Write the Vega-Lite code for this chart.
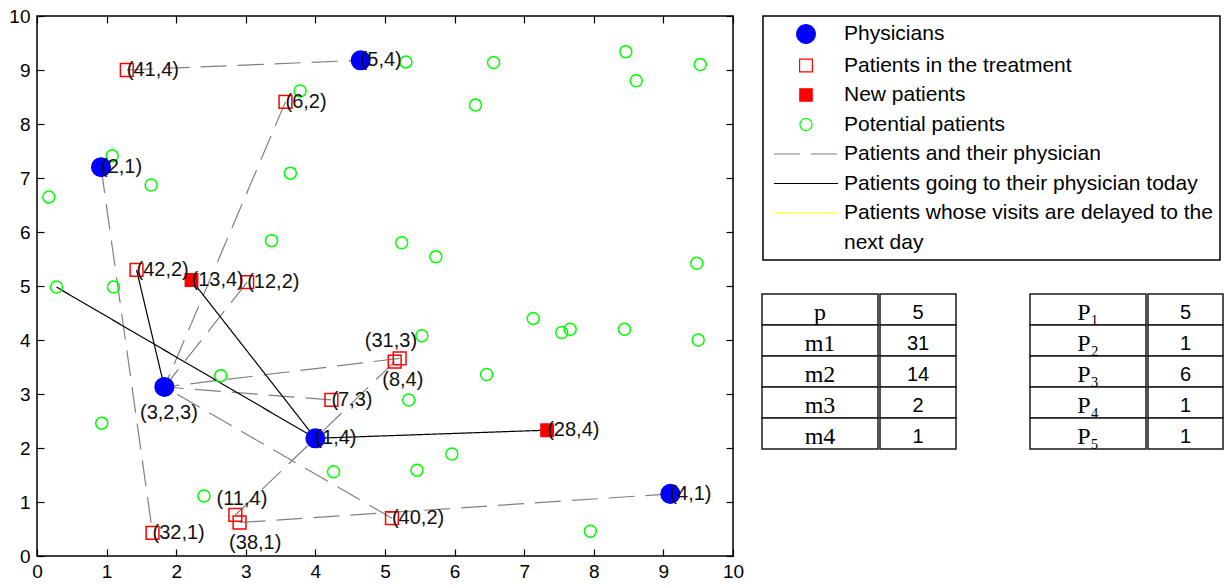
{
  "$schema": "https://vega.github.io/schema/vega-lite/v6.json",
  "background": "white",
  "padding": {"left": 8, "top": 6, "right": 0, "bottom": 0},
  "bounds": "flush",
  "spacing": 29,
  "datasets": {
    "segments": [
      {"kind": "Patients and their physician", "xs": 1.29, "ys": 9.00, "xe": 4.65, "ye": 9.18},
      {"kind": "Patients and their physician", "xs": 3.57, "ys": 8.41, "xe": 1.83, "ye": 3.13},
      {"kind": "Patients and their physician", "xs": 3.02, "ys": 5.07, "xe": 1.83, "ye": 3.13},
      {"kind": "Patients and their physician", "xs": 5.21, "ys": 3.66, "xe": 1.83, "ye": 3.13},
      {"kind": "Patients and their physician", "xs": 4.23, "ys": 2.89, "xe": 1.83, "ye": 3.13},
      {"kind": "Patients and their physician", "xs": 5.10, "ys": 0.70, "xe": 1.83, "ye": 3.13},
      {"kind": "Patients and their physician", "xs": 0.92, "ys": 7.20, "xe": 1.66, "ye": 0.43},
      {"kind": "Patients and their physician", "xs": 2.85, "ys": 0.76, "xe": 4.00, "ye": 2.18},
      {"kind": "Patients and their physician", "xs": 5.14, "ys": 3.60, "xe": 4.00, "ye": 2.18},
      {"kind": "Patients and their physician", "xs": 2.91, "ys": 0.62, "xe": 9.10, "ye": 1.15},
      {"kind": "Patients going to their physician today", "xs": 1.43, "ys": 5.30, "xe": 1.83, "ye": 3.13},
      {"kind": "Patients going to their physician today", "xs": 2.22, "ys": 5.11, "xe": 4.00, "ye": 2.18},
      {"kind": "Patients going to their physician today", "xs": 7.33, "ys": 2.33, "xe": 4.00, "ye": 2.18},
      {"kind": "Patients going to their physician today", "xs": 0.28, "ys": 4.98, "xe": 4.00, "ye": 2.18}
    ],
    "markers": [
      {"kind": "Potential patients", "x": 1.08, "y": 7.41},
      {"kind": "Potential patients", "x": 1.64, "y": 6.87},
      {"kind": "Potential patients", "x": 0.17, "y": 6.65},
      {"kind": "Potential patients", "x": 3.78, "y": 8.61},
      {"kind": "Potential patients", "x": 3.64, "y": 7.09},
      {"kind": "Potential patients", "x": 3.37, "y": 5.84},
      {"kind": "Potential patients", "x": 0.28, "y": 4.98},
      {"kind": "Potential patients", "x": 1.10, "y": 4.98},
      {"kind": "Potential patients", "x": 5.24, "y": 5.80},
      {"kind": "Potential patients", "x": 5.30, "y": 9.15},
      {"kind": "Potential patients", "x": 6.56, "y": 9.14},
      {"kind": "Potential patients", "x": 6.30, "y": 8.35},
      {"kind": "Potential patients", "x": 8.46, "y": 9.34},
      {"kind": "Potential patients", "x": 8.61, "y": 8.80},
      {"kind": "Potential patients", "x": 9.53, "y": 9.10},
      {"kind": "Potential patients", "x": 5.73, "y": 5.54},
      {"kind": "Potential patients", "x": 9.48, "y": 5.42},
      {"kind": "Potential patients", "x": 7.13, "y": 4.40},
      {"kind": "Potential patients", "x": 7.54, "y": 4.14},
      {"kind": "Potential patients", "x": 7.66, "y": 4.20},
      {"kind": "Potential patients", "x": 8.44, "y": 4.20},
      {"kind": "Potential patients", "x": 9.50, "y": 4.00},
      {"kind": "Potential patients", "x": 5.53, "y": 4.08},
      {"kind": "Potential patients", "x": 6.46, "y": 3.36},
      {"kind": "Potential patients", "x": 5.34, "y": 2.89},
      {"kind": "Potential patients", "x": 5.96, "y": 1.89},
      {"kind": "Potential patients", "x": 5.46, "y": 1.59},
      {"kind": "Potential patients", "x": 7.95, "y": 0.46},
      {"kind": "Potential patients", "x": 2.64, "y": 3.34},
      {"kind": "Potential patients", "x": 0.93, "y": 2.46},
      {"kind": "Potential patients", "x": 4.26, "y": 1.56},
      {"kind": "Potential patients", "x": 2.40, "y": 1.11},
      {"kind": "Patients in the treatment", "x": 1.29, "y": 9.00},
      {"kind": "Patients in the treatment", "x": 3.57, "y": 8.41},
      {"kind": "Patients in the treatment", "x": 1.43, "y": 5.30},
      {"kind": "Patients in the treatment", "x": 3.02, "y": 5.07},
      {"kind": "Patients in the treatment", "x": 5.21, "y": 3.66},
      {"kind": "Patients in the treatment", "x": 5.14, "y": 3.60},
      {"kind": "Patients in the treatment", "x": 4.23, "y": 2.89},
      {"kind": "Patients in the treatment", "x": 2.85, "y": 0.76},
      {"kind": "Patients in the treatment", "x": 2.91, "y": 0.62},
      {"kind": "Patients in the treatment", "x": 1.66, "y": 0.43},
      {"kind": "Patients in the treatment", "x": 5.10, "y": 0.70},
      {"kind": "New patients", "x": 2.22, "y": 5.11},
      {"kind": "New patients", "x": 7.33, "y": 2.33},
      {"kind": "Physicians", "x": 0.92, "y": 7.20},
      {"kind": "Physicians", "x": 4.65, "y": 9.18},
      {"kind": "Physicians", "x": 1.83, "y": 3.13},
      {"kind": "Physicians", "x": 4.00, "y": 2.18},
      {"kind": "Physicians", "x": 9.10, "y": 1.15}
    ],
    "labels": [
      {"label": "(2,1)", "x": 0.92, "y": 7.20},
      {"label": "(5,4)", "x": 4.65, "y": 9.18},
      {"label": "(3,2,3)", "x": 1.48, "y": 2.64},
      {"label": "(1,4)", "x": 4.00, "y": 2.18},
      {"label": "(4,1)", "x": 9.10, "y": 1.15},
      {"label": "(41,4)", "x": 1.29, "y": 9.00},
      {"label": "(6,2)", "x": 3.57, "y": 8.41},
      {"label": "(42,2)", "x": 1.43, "y": 5.30},
      {"label": "(12,2)", "x": 3.02, "y": 5.07},
      {"label": "(31,3)", "x": 4.71, "y": 3.99},
      {"label": "(8,4)", "x": 4.96, "y": 3.26},
      {"label": "(7,3)", "x": 4.23, "y": 2.89},
      {"label": "(11,4)", "x": 2.58, "y": 1.06},
      {"label": "(38,1)", "x": 2.76, "y": 0.24},
      {"label": "(32,1)", "x": 1.66, "y": 0.43},
      {"label": "(40,2)", "x": 5.10, "y": 0.70},
      {"label": "(13,4)", "x": 2.22, "y": 5.11},
      {"label": "(28,4)", "x": 7.33, "y": 2.33}
    ],
    "params": [
      {"row": 1, "name": "p", "value": 5},
      {"row": 2, "name": "m1", "value": 31},
      {"row": 3, "name": "m2", "value": 14},
      {"row": 4, "name": "m3", "value": 2},
      {"row": 5, "name": "m4", "value": 1}
    ],
    "counts": [
      {"row": 1, "name": "P₁", "value": 5},
      {"row": 2, "name": "P₂", "value": 1},
      {"row": 3, "name": "P₃", "value": 6},
      {"row": 4, "name": "P₄", "value": 1},
      {"row": 5, "name": "P₅", "value": 1}
    ]
  },
  "hconcat": [
    {
      "width": 696,
      "height": 540,
      "layer": [
        {
          "data": {"name": "segments"},
          "mark": {"type": "rule", "strokeWidth": 1.2},
          "encoding": {
            "x": {"field": "xs", "type": "quantitative", "scale": {"domain": [0, 10], "nice": false, "zero": false},
                  "axis": {"orient": "bottom", "values": [0, 1, 2, 3, 4, 5, 6, 7, 8, 9, 10], "format": "d", "labelFlush": false, "labelOverlap": false, "labelPadding": 13, "title": null}},
            "y": {"field": "ys", "type": "quantitative", "scale": {"domain": [0, 10], "nice": false, "zero": false},
                  "axis": {"orient": "left", "values": [0, 1, 2, 3, 4, 5, 6, 7, 8, 9, 10], "format": "d", "labelFlush": false, "labelOverlap": false, "labelPadding": 14, "title": null}},
            "x2": {"field": "xe"},
            "y2": {"field": "ye"},
            "stroke": {
              "field": "kind", "type": "nominal",
              "scale": {"domain": ["Physicians", "Patients in the treatment", "New patients", "Potential patients", "Patients and their physician", "Patients going to their physician today", "Patients whose visits are delayed to the next day"],
                        "range": ["#0000ff", "#ff0000", "#ff0000", "#00ff00", "#808080", "#000000", "#ffff00"]},
              "legend": {"title": null, "orient": "none", "legendX": 726, "legendY": 0,
                         "labelExpr": "datum.value === 'Patients whose visits are delayed to the next day' ? ['Patients whose visits are delayed to the', 'next day'] : datum.label",
                         "encoding": {"labels": {"lineHeight": {"value": 30}}}}
            },
            "strokeDash": {
              "field": "kind", "type": "nominal",
              "scale": {"domain": ["Physicians", "Patients in the treatment", "New patients", "Potential patients", "Patients and their physician", "Patients going to their physician today", "Patients whose visits are delayed to the next day"],
                        "range": [[1, 0], [1, 0], [1, 0], [1, 0], [26, 11], [1, 0], [1, 0]]},
              "legend": {"title": null, "orient": "none", "legendX": 726, "legendY": 0,
                         "labelExpr": "datum.value === 'Patients whose visits are delayed to the next day' ? ['Patients whose visits are delayed to the', 'next day'] : datum.label",
                         "encoding": {"labels": {"lineHeight": {"value": 30}}}}
            }
          }
        },
        {
          "data": {"name": "markers"},
          "mark": {"type": "point", "size": 400, "opacity": 1, "strokeWidth": 1.5},
          "encoding": {
            "x": {"field": "x", "type": "quantitative", "scale": {"domain": [0, 10], "nice": false, "zero": false},
                  "axis": {"orient": "top", "values": [0, 1, 2, 3, 4, 5, 6, 7, 8, 9, 10], "labels": false, "title": null}},
            "y": {"field": "y", "type": "quantitative", "scale": {"domain": [0, 10], "nice": false, "zero": false},
                  "axis": {"orient": "right", "values": [0, 1, 2, 3, 4, 5, 6, 7, 8, 9, 10], "labels": false, "title": null}},
            "shape": {
              "field": "kind", "type": "nominal",
              "scale": {"domain": ["Physicians", "Patients in the treatment", "New patients", "Potential patients", "Patients and their physician", "Patients going to their physician today", "Patients whose visits are delayed to the next day"],
                        "range": [
                          "M0.93,0C0.93,0.5136,0.5136,0.93,0,0.93C-0.5136,0.93,-0.93,0.5136,-0.93,0C-0.93,-0.5136,-0.5136,-0.93,0,-0.93C0.5136,-0.93,0.93,-0.5136,0.93,0Z",
                          "M-0.64,-0.64L0.64,-0.64L0.64,0.64L-0.64,0.64Z",
                          "M-0.62,-0.62L0.62,-0.62L0.62,0.62L-0.62,0.62Z",
                          "M0.6,0C0.6,0.3314,0.3314,0.6,0,0.6C-0.3314,0.6,-0.6,0.3314,-0.6,0C-0.6,-0.3314,-0.3314,-0.6,0,-0.6C0.3314,-0.6,0.6,-0.3314,0.6,0Z",
                          "M-3.2,0L3.2,0",
                          "M-3.2,0L3.2,0",
                          "M-3.2,0L3.2,0"
                        ]},
              "legend": {"title": null, "orient": "none", "legendX": 726, "legendY": 0,
                         "labelExpr": "datum.value === 'Patients whose visits are delayed to the next day' ? ['Patients whose visits are delayed to the', 'next day'] : datum.label",
                         "encoding": {"labels": {"lineHeight": {"value": 30}}}}
            },
            "fill": {
              "field": "kind", "type": "nominal",
              "scale": {"domain": ["Physicians", "Patients in the treatment", "New patients", "Potential patients", "Patients and their physician", "Patients going to their physician today", "Patients whose visits are delayed to the next day"],
                        "range": ["#0000ff", "transparent", "#ff0000", "transparent", "transparent", "transparent", "transparent"]},
              "legend": {"title": null, "orient": "none", "legendX": 726, "legendY": 0,
                         "labelExpr": "datum.value === 'Patients whose visits are delayed to the next day' ? ['Patients whose visits are delayed to the', 'next day'] : datum.label",
                         "encoding": {"labels": {"lineHeight": {"value": 30}}}}
            },
            "stroke": {
              "field": "kind", "type": "nominal",
              "scale": {"domain": ["Physicians", "Patients in the treatment", "New patients", "Potential patients", "Patients and their physician", "Patients going to their physician today", "Patients whose visits are delayed to the next day"],
                        "range": ["#0000ff", "#ff0000", "#ff0000", "#00ff00", "#808080", "#000000", "#ffff00"]},
              "legend": {"title": null, "orient": "none", "legendX": 726, "legendY": 0,
                         "labelExpr": "datum.value === 'Patients whose visits are delayed to the next day' ? ['Patients whose visits are delayed to the', 'next day'] : datum.label",
                         "encoding": {"labels": {"lineHeight": {"value": 30}}}}
            }
          }
        },
        {
          "data": {"name": "labels"},
          "mark": {"type": "text", "align": "left", "baseline": "middle", "fontSize": 20, "color": "#111111"},
          "encoding": {
            "x": {"field": "x", "type": "quantitative", "scale": {"domain": [0, 10], "nice": false, "zero": false}, "axis": null},
            "y": {"field": "y", "type": "quantitative", "scale": {"domain": [0, 10], "nice": false, "zero": false}, "axis": null},
            "text": {"field": "label"}
          }
        }
      ],
      "resolve": {"axis": {"x": "independent", "y": "independent"}}
    },
    {
      "spacing": 72,
      "hconcat": [
        {
          "spacing": 0,
          "hconcat": [
            {
              "data": {"name": "params"},
              "width": 116,
              "height": 540,
              "view": {"stroke": null},
              "layer": [
                {"mark": {"type": "rect", "fill": "white", "stroke": "#1a1a1a", "strokeWidth": 1.5},
                 "encoding": {"y": {"field": "row", "type": "ordinal", "scale": {"range": [278, 433], "paddingInner": 0, "paddingOuter": 0}, "axis": null}}},
                {"mark": {"type": "text", "font": "Liberation Serif", "fontSize": 24, "baseline": "middle", "dy": 3, "color": "black"},
                 "encoding": {"y": {"field": "row", "type": "ordinal", "axis": null}, "text": {"field": "name"}}}
              ]
            },
            {
              "data": {"name": "params"},
              "width": 76,
              "height": 540,
              "view": {"stroke": null},
              "layer": [
                {"mark": {"type": "rect", "fill": "white", "stroke": "#1a1a1a", "strokeWidth": 1.5},
                 "encoding": {"y": {"field": "row", "type": "ordinal", "scale": {"range": [278, 433], "paddingInner": 0, "paddingOuter": 0}, "axis": null}}},
                {"mark": {"type": "text", "fontSize": 20, "baseline": "middle", "dy": 3, "color": "black"},
                 "encoding": {"y": {"field": "row", "type": "ordinal", "axis": null}, "text": {"field": "value", "type": "quantitative", "format": "d"}}}
              ]
            }
          ]
        },
        {
          "spacing": 0,
          "hconcat": [
            {
              "data": {"name": "counts"},
              "width": 116,
              "height": 540,
              "view": {"stroke": null},
              "layer": [
                {"mark": {"type": "rect", "fill": "white", "stroke": "#1a1a1a", "strokeWidth": 1.5},
                 "encoding": {"y": {"field": "row", "type": "ordinal", "scale": {"range": [278, 433], "paddingInner": 0, "paddingOuter": 0}, "axis": null}}},
                {"mark": {"type": "text", "font": "Liberation Serif", "fontSize": 24, "baseline": "middle", "dy": 3, "color": "black"},
                 "encoding": {"y": {"field": "row", "type": "ordinal", "axis": null}, "text": {"field": "name"}}}
              ]
            },
            {
              "data": {"name": "counts"},
              "width": 75,
              "height": 540,
              "view": {"stroke": null},
              "layer": [
                {"mark": {"type": "rect", "fill": "white", "stroke": "#1a1a1a", "strokeWidth": 1.5},
                 "encoding": {"y": {"field": "row", "type": "ordinal", "scale": {"range": [278, 433], "paddingInner": 0, "paddingOuter": 0}, "axis": null}}},
                {"mark": {"type": "text", "fontSize": 20, "baseline": "middle", "dy": 3, "color": "black"},
                 "encoding": {"y": {"field": "row", "type": "ordinal", "axis": null}, "text": {"field": "value", "type": "quantitative", "format": "d"}}}
              ]
            }
          ]
        }
      ]
    }
  ],
  "config": {
    "font": "Liberation Sans",
    "view": {"stroke": "black", "strokeWidth": 1.5},
    "axis": {"domain": false, "grid": false, "ticks": true, "tickSize": -7, "tickColor": "black", "tickWidth": 1.2,
             "labelFont": "Liberation Sans", "labelFontSize": 19, "labelColor": "black"},
    "legend": {"padding": 7, "strokeColor": "black", "strokeWidth": 1.5, "fillColor": "white",
               "labelFont": "Liberation Sans", "labelFontSize": 21, "labelColor": "black", "labelLimit": 0,
               "labelOffset": 27, "symbolSize": 400, "symbolStrokeWidth": 1.2, "rowPadding": 8.5, "symbolOffset": 25}
  }
}
